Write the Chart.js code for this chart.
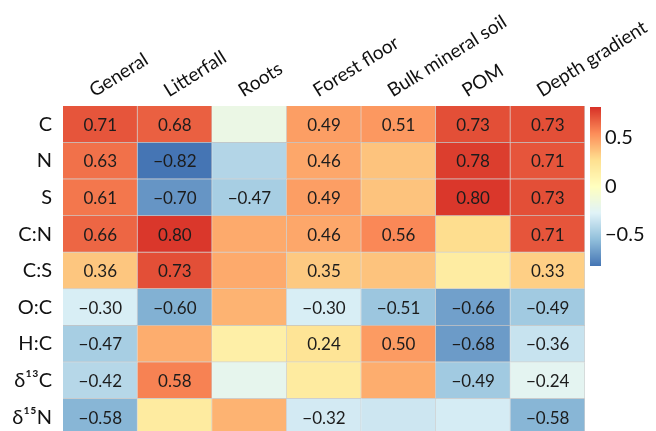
<!DOCTYPE html>
<html>
<head>
<meta charset="utf-8">
<script src="https://cdn.jsdelivr.net/npm/chart.js@4.4.1/dist/chart.umd.min.js"></script>
<style>
  html, body { margin: 0; padding: 0; background: #fff; }
  #wrap { width: 656px; height: 431px; }
</style>
</head>
<body>
<div id="wrap"><canvas id="heat" width="656" height="431"></canvas></div>
<script>
// Column groups and element / ratio rows
const columns = ['General', 'Litterfall', 'Roots', 'Forest floor', 'Bulk mineral soil', 'POM', 'Depth gradient'];
const rowLabels = ['C', 'N', 'S', 'C:N', 'C:S', 'O:C', 'H:C', 'δ¹³C', 'δ¹⁵N'];

// Correlation coefficients, one array per column, in rowLabels order
const general       = [0.71, 0.63, 0.61, 0.66, 0.36, -0.30, -0.47, -0.42, -0.58];
const litterfall    = [0.68, -0.82, -0.70, 0.80, 0.73, -0.60, 0.44, 0.58, 0.18];
const roots         = [-0.18, -0.43, -0.47, 0.45, 0.45, 0.42, 0.14, -0.22, 0.42];
const forestFloor   = [0.49, 0.46, 0.49, 0.46, 0.35, -0.30, 0.24, 0.18, -0.32];
const bulkSoil      = [0.51, 0.37, 0.37, 0.56, 0.37, -0.51, 0.50, 0.44, -0.34];
const pom           = [0.73, 0.78, 0.80, 0.28, 0.17, -0.66, -0.68, -0.49, -0.31];
const depthGradient = [0.73, 0.71, 0.73, 0.71, 0.33, -0.49, -0.36, -0.24, -0.58];

// Cells whose coefficient is not printed: [row, column]
const unlabelled = [
  [0, 2], [1, 2], [3, 2], [4, 2], [5, 2], [6, 2], [7, 2], [8, 2],
  [6, 1], [8, 1],
  [7, 3],
  [1, 4], [2, 4], [4, 4], [7, 4], [8, 4],
  [3, 5], [4, 5], [8, 5]
];

// Colour bar tick values and limits
const legendTicks = [0.5, 0, -0.5];
const legendLimit = 0.82;

const matrix = [general, litterfall, roots, forestFloor, bulkSoil, pom, depthGradient];

// Diverging RdYlBu ramp (blue = negative, red = positive)
const rampStops = ['#4575b4', '#91bfdb', '#e0f3f8', '#ffffbf', '#fee090', '#fc8d59', '#d73027'];
function hexToRgb(h) {
  return [parseInt(h.slice(1, 3), 16), parseInt(h.slice(3, 5), 16), parseInt(h.slice(5, 7), 16)];
}
const rampRgb = rampStops.map(hexToRgb);
function colour(v) {
  let t = (v + legendLimit) / (2 * legendLimit);
  t = Math.max(0, Math.min(1, t));
  const pos = t * (rampRgb.length - 1);
  const i = Math.min(Math.floor(pos), rampRgb.length - 2);
  const f = pos - i;
  const a = rampRgb[i], b = rampRgb[i + 1];
  const c = a.map((x, k) => Math.round(x + (b[k] - x) * f));
  return `rgb(${c[0]},${c[1]},${c[2]})`;
}

function fmt(v, digits) {
  const s = v.toFixed(digits);
  return v < 0 ? '\u2212' + s.slice(1) : s;
}

const isUnlabelled = (r, c) => unlabelled.some(p => p[0] === r && p[1] === c);

// One floating-bar dataset per row; each bar spans one row band
const datasets = rowLabels.map((name, r) => ({
  label: name,
  data: columns.map(() => [r, r + 1]),
  backgroundColor: columns.map((_, c) => colour(matrix[c][r])),
  borderColor: 'rgba(150,150,150,0.45)',
  borderWidth: { top: 0, left: 0, right: 1, bottom: 1 },
  borderSkipped: false,
  grouped: false,
  barPercentage: 1,
  categoryPercentage: 1
}));

const cellLabels = {
  id: 'cellLabels',
  afterDatasetsDraw(chart) {
    const ctx = chart.ctx;
    const area = chart.chartArea;
    ctx.save();
    ctx.beginPath();
    ctx.rect(area.left, area.top, area.right - area.left, area.bottom - area.top);
    ctx.clip();
    ctx.font = '17px Lato';
    ctx.fillStyle = '#1c1c1c';
    ctx.textAlign = 'center';
    ctx.textBaseline = 'middle';
    chart.data.datasets.forEach((ds, r) => {
      chart.getDatasetMeta(r).data.forEach((bar, c) => {
        if (isUnlabelled(r, c)) return;
        const p = bar.getProps(['x', 'y', 'base'], true);
        ctx.fillText(fmt(matrix[c][r], 2), p.x, (p.y + p.base) / 2 + 1);
      });
    });
    ctx.restore();
  }
};

const colourBar = {
  id: 'colourBar',
  afterDraw(chart) {
    const ctx = chart.ctx;
    const left = 590, width = 11, top = 107, bottom = 266;
    const h = bottom - top;
    ctx.save();
    for (let y = 0; y < h; y++) {
      const v = legendLimit - ((y + 0.5) / h) * 2 * legendLimit;
      ctx.fillStyle = colour(v);
      ctx.fillRect(left, top + y, width, 1);
    }
    ctx.font = '20px Lato';
    ctx.fillStyle = '#111';
    ctx.textAlign = 'left';
    ctx.textBaseline = 'middle';
    legendTicks.forEach(t => {
      const y = top + ((legendLimit - t) / (2 * legendLimit)) * h;
      ctx.fillText(t === 0 ? '0' : fmt(t, 1), left + 15, y);
    });
    ctx.restore();
  }
};

new Chart(document.getElementById('heat'), {
  type: 'bar',
  data: { labels: columns, datasets },
  options: {
    responsive: false,
    animation: false,
    devicePixelRatio: 1,
    layout: { padding: { left: 0, right: 71, top: 0, bottom: 0 } },
    plugins: { legend: { display: false }, tooltip: { enabled: false } },
    scales: {
      x: {
        type: 'category',
        position: 'top',
        offset: true,
        grid: { display: false, drawTicks: false },
        border: { display: false },
        ticks: {
          autoSkip: false,
          minRotation: 32,
          maxRotation: 32,
          padding: 4,
          labelOffset: 3,
          color: '#111',
          font: { family: 'Lato', size: 19 }
        },
        afterFit(scale) {
          scale.height = 106;
          scale.paddingLeft = 0;
          scale.paddingRight = 0;
        }
      },
      y: {
        type: 'linear',
        reverse: true,
        min: 0,
        max: 8.88,
        grid: { display: false, drawTicks: false },
        border: { display: false },
        afterBuildTicks(scale) {
          scale.ticks = rowLabels.map((_, i) => ({ value: i + 0.5 }));
        },
        ticks: {
          autoSkip: false,
          padding: 11,
          color: '#111',
          font: { family: 'Lato', size: 20 },
          callback: (value, index) => rowLabels[index]
        },
        afterFit(scale) {
          scale.width = 63;
          scale.paddingTop = 0;
          scale.paddingBottom = 0;
        }
      }
    }
  },
  plugins: [cellLabels, colourBar]
});
</script>
</body>
</html>
